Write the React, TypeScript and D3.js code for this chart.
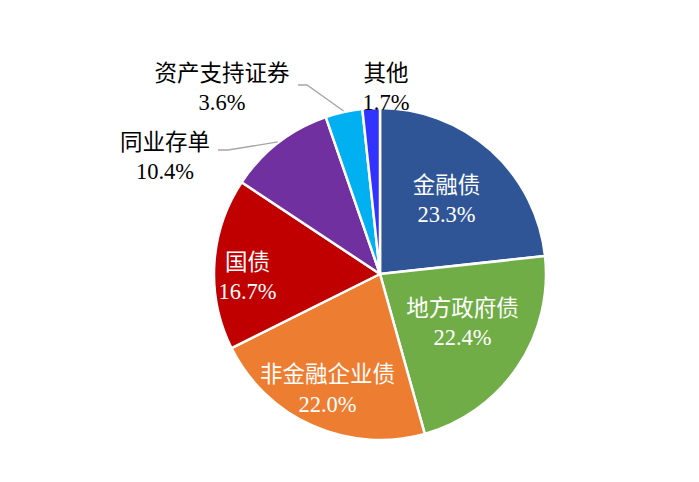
import React, { useEffect, useRef } from 'react';
import * as d3 from 'd3';

const categories = ['金融债', '地方政府债', '非金融企业债', '国债', '同业存单', '资产支持证券', '其他'];
const shares = [23.3, 22.4, 22.0, 16.7, 10.4, 3.6, 1.7];
const colors = ['#2F5597', '#70AD47', '#ED7D31', '#C00000', '#7030A0', '#00B0F0', '#3333FF'];

// label placement: inside slices use a radius factor (+ vertical nudge), outside ones use offsets from centre
const insideLabel: Record<string, { r: number; dy: number }> = {
  '金融债': { r: 0.6, dy: 0 },
  '地方政府债': { r: 0.6, dy: -7 },
  '非金融企业债': { r: 0.78, dy: -3 },
  '国债': { r: 0.8, dy: 11 },
};
const outsideLabel: Record<string, { x: number; y: number; elbow?: [number, number][] }> = {
  '同业存单': { x: -215, y: -117, elbow: [[-162, -124], [-152, -124]] },
  '资产支持证券': { x: -158, y: -186, elbow: [[-82, -189], [-73, -189]] },
  '其他': { x: 6, y: -186 },
};

const App: React.FC = () => {
  const svgRef = useRef<SVGSVGElement>(null);

  useEffect(() => {
    if (!svgRef.current) return;
    const svg = d3.select(svgRef.current);
    svg.selectAll('*').remove();

    const width = 699;
    const height = 482;
    const cx = 380;
    const cy = 274;
    const radius = 166;

    svg.attr('width', width).attr('height', height);
    svg.append('rect').attr('width', width).attr('height', height).attr('fill', '#fff');

    const g = svg.append('g').attr('transform', `translate(${cx},${cy})`);

    const pie = d3.pie<number>().sort(null).value(d => d);
    const arcs = pie(shares);
    const arc = d3.arc<d3.PieArcDatum<number>>().innerRadius(0).outerRadius(radius);

    g.selectAll('.slice')
      .data(arcs)
      .enter()
      .append('path')
      .attr('class', 'slice')
      .attr('d', arc)
      .attr('fill', (d, i) => colors[i])
      .attr('stroke', '#fff')
      .attr('stroke-width', 2.5)
      .attr('stroke-linejoin', 'round');

    const font = '"Liberation Serif", "Times New Roman", "Noto Sans CJK SC", serif';
    const fontSize = 22.5;
    const lineGap = 29.5;

    arcs.forEach((d, i) => {
      const name = categories[i];
      const pct = `${shares[i].toFixed(1)}%`;
      const mid = (d.startAngle + d.endAngle) / 2;

      let lx: number;
      let ly: number;
      let fill = '#fff';

      if (insideLabel[name] !== undefined) {
        const r = radius * insideLabel[name].r;
        lx = Math.sin(mid) * r;
        ly = -Math.cos(mid) * r + insideLabel[name].dy;
      } else {
        const o = outsideLabel[name];
        lx = o.x;
        ly = o.y;
        fill = '#000';
        if (o.elbow) {
          const end: [number, number] = [Math.sin(mid) * (radius + 1), -Math.cos(mid) * (radius + 1)];
          g.append('path')
            .attr('d', d3.line()([...o.elbow, end]))
            .attr('fill', 'none')
            .attr('stroke', '#A6A6A6')
            .attr('stroke-width', 1.3);
        }
      }

      const t = g.append('text')
        .attr('x', lx)
        .attr('y', ly)
        .attr('text-anchor', 'middle')
        .style('font-family', font)
        .style('font-size', `${fontSize}px`)
        .style('fill', fill);

      t.append('tspan').attr('x', lx).attr('dy', -lineGap / 2 + 7.5).text(name);
      t.append('tspan').attr('x', lx).attr('dy', lineGap).text(pct);
    });
  }, []);

  return (
    <div>
      <svg ref={svgRef} style={{ display: 'block', margin: '-8px' }}></svg>
    </div>
  );
};

export default App;
